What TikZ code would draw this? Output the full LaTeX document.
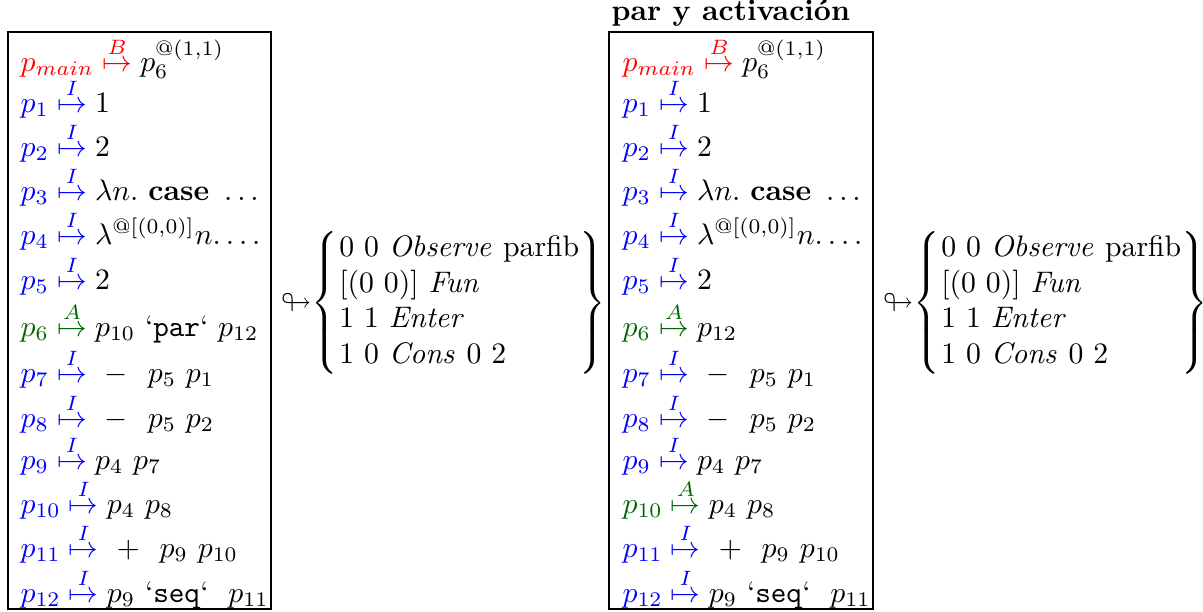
\documentclass[tikz,border=0pt]{standalone}
\usepackage{amsmath}
\usepackage{amssymb}
\usepackage{xcolor}
\usepackage{tikz}
\usetikzlibrary{positioning, fit}

\colorlet{actgreen}{green!40!black}
% one binding of the heap: colour, pointer, tag, value
\newcommand{\bind}[4]{$\color{#1}#2\stackrel{#3}{\mapsto}\color{black}#4$}
\newcommand{\stackbox}{${\looparrowright}\!\left\{\begin{array}{@{\hspace{0.6pt}}l@{}}
  0\ 0\ \mathit{Observe}\ \text{parfib}\\
  {[}(0\ 0){]}\ \mathit{Fun}\\
  1\ 1\ \mathit{Enter}\\
  1\ 0\ \mathit{Cons}\ 0\ 2
\end{array}\right\}$}

\begin{document}
\begin{tikzpicture}[
  x=0.3367pt, y=-0.3367pt,
  row/.style={anchor=base west, inner sep=0pt},
  heap/.style={draw, thick, inner sep=0pt},
  stk/.style={anchor=west, inner sep=0pt}
]
  \useasboundingbox (0,0) rectangle (1203,611);

  % ----- Heap antes (x = 20) -----
  \node[row] (l0)  at (20,71)  {\bind{red}{p_{main}}{B}{p_6^{@(1,1)}}};
  \node[row] (l1)  at (20,112) {\bind{blue}{p_1}{I}{1}};
  \node[row] (l2)  at (20,156) {\bind{blue}{p_2}{I}{2}};
  \node[row] (l3)  at (20,200) {\bind{blue}{p_3}{I}{\lambda n.\ \textbf{case}\ \ldots}};
  \node[row] (l4)  at (20,244) {\bind{blue}{p_4}{I}{\lambda^{@[(0,0)]}n.\ldots}};
  \node[row] (l5)  at (20,289) {\bind{blue}{p_5}{I}{2}};
  \node[row] (l6)  at (20,336) {\bind{actgreen}{p_6}{A}{p_{10}\ \text{`\texttt{par}`}\ p_{12}}};
  \node[row] (l7)  at (20,382) {\bind{blue}{p_7}{I}{\ {-}\ \ p_5\ p_1}};
  \node[row] (l8)  at (20,427) {\bind{blue}{p_8}{I}{\ {-}\ \ p_5\ p_2}};
  \node[row] (l9)  at (20,469) {\bind{blue}{p_9}{I}{p_4\ p_7}};
  \node[row] (l10) at (20,513) {\bind{blue}{p_{10}}{I}{p_4\ p_8}};
  \node[row] (l11) at (20,557) {\bind{blue}{p_{11}}{I}{\ {+}\ \ p_9\ p_{10}}};
  \node[row] (l12) at (20,602) {\bind{blue}{p_{12}}{I}{p_9\ \text{`\texttt{seq}`}\ \ p_{11}}};
  \node[heap, fit={(8,32)(271,609)}] (heapL) {};

  % ----- Heap despues (x = 622) -----
  \node[row] (title) at (611,20) {\textbf{par y activación}};
  \node[row] (r0)  at (622,71)  {\bind{red}{p_{main}}{B}{p_6^{@(1,1)}}};
  \node[row] (r1)  at (622,112) {\bind{blue}{p_1}{I}{1}};
  \node[row] (r2)  at (622,156) {\bind{blue}{p_2}{I}{2}};
  \node[row] (r3)  at (622,200) {\bind{blue}{p_3}{I}{\lambda n.\ \textbf{case}\ \ldots}};
  \node[row] (r4)  at (622,244) {\bind{blue}{p_4}{I}{\lambda^{@[(0,0)]}n.\ldots}};
  \node[row] (r5)  at (622,289) {\bind{blue}{p_5}{I}{2}};
  \node[row] (r6)  at (622,336) {\bind{actgreen}{p_6}{A}{p_{12}}};
  \node[row] (r7)  at (622,382) {\bind{blue}{p_7}{I}{\ {-}\ \ p_5\ p_1}};
  \node[row] (r8)  at (622,427) {\bind{blue}{p_8}{I}{\ {-}\ \ p_5\ p_2}};
  \node[row] (r9)  at (622,469) {\bind{blue}{p_9}{I}{p_4\ p_7}};
  \node[row] (r10) at (622,513) {\bind{actgreen}{p_{10}}{A}{p_4\ p_8}};
  \node[row] (r11) at (622,557) {\bind{blue}{p_{11}}{I}{\ {+}\ \ p_9\ p_{10}}};
  \node[row] (r12) at (622,602) {\bind{blue}{p_{12}}{I}{p_9\ \text{`\texttt{seq}`}\ \ p_{11}}};
  \node[heap, fit={(609,32)(873,609)}] (heapR) {};

  % ----- Pilas -----
  \node[stk] (stackL) at (281,303) {\stackbox};
  \node[stk] (stackR) at (883,303) {\stackbox};
\end{tikzpicture}
\end{document}
